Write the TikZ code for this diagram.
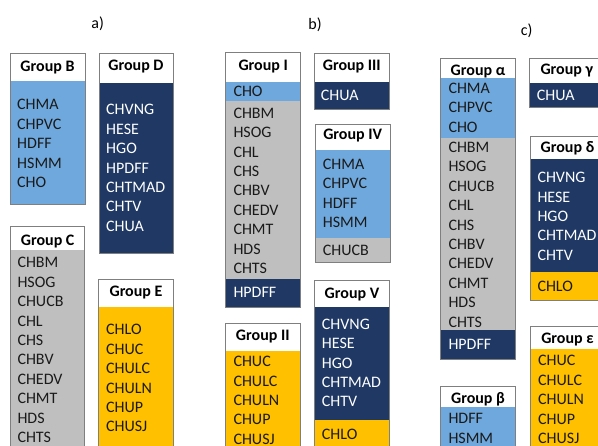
\documentclass[tikz,border=0pt]{standalone}
\usepackage{fontspec}
\setmainfont{Carlito}
\definecolor{cblue}{HTML}{6FA8DC}
\definecolor{cnavy}{HTML}{1F3864}
\definecolor{cgray}{HTML}{BFBFBF}
\definecolor{cgold}{HTML}{FFC000}
\definecolor{cframe}{HTML}{7F7F7F}
\definecolor{ctext}{HTML}{1A1A1A}
\tikzset{
  frame/.style={draw=cframe, line width=0.9pt},
  title/.style={anchor=base, inner sep=0pt, font=\fontsize{16}{19}\selectfont\bfseries, text=black},
  item/.style={anchor=base west, inner sep=0pt, font=\fontsize{16}{19}\selectfont, text=ctext},
  itemw/.style={item, text=white},
  panel/.style={anchor=base, inner sep=0pt, font=\fontsize{16}{19}\selectfont, text=black}
}
\newcommand\itemlist[5]{\foreach \t [count=\i] in {#5} \node[#4] (#1\i) at (#2,{#3+(\i-1)*19.4}) {\t};}
\begin{document}
\begin{tikzpicture}[x=1pt,y=-1pt]
\useasboundingbox (0,0) rectangle (598,446);
\clip (0,0) rectangle (598,446);
\fill[white] (0,0) rectangle (598,446);

% panel labels
\node[panel] (la) at (97.7,28.5) {a)};
\node[panel] (lb) at (315,29.5) {b)};
\node[panel] (lc) at (526.7,35.5) {c)};

% ---------- a) ----------
% Group B
\fill[cblue] (10,81) rectangle (85,204);
\draw[frame] (10,53) rectangle (85,204);
\node[title] (tB) at (47.5,71.7) {Group B};
\itemlist{B}{17}{110}{item}{CHMA,CHPVC,HDFF,HSMM,CHO}

% Group D
\fill[cnavy] (99,83) rectangle (173,253);
\draw[frame] (99,53) rectangle (173,253);
\node[title] (tD) at (136,71) {Group D};
\itemlist{D}{106}{115}{itemw}{CHVNG,HESE,HGO,HPDFF,CHTMAD,CHTV,CHUA}

% Group C
\fill[cgray] (10.7,250) rectangle (84.7,460);
\draw[frame] (10.7,226.7) rectangle (84.7,460);
\node[title] (tC) at (47.7,245.7) {Group C};
\itemlist{C}{17.3}{268}{item}{CHBM,HSOG,CHUCB,CHL,CHS,CHBV,CHEDV,CHMT,HDS,CHTS}

% Group E
\fill[cgold] (98.7,306.7) rectangle (173.3,460);
\draw[frame] (98.7,279.3) rectangle (173.3,460);
\node[title] (tE) at (136,296.7) {Group E};
\itemlist{E}{106}{335}{item}{CHLO,CHUC,CHULC,CHULN,CHUP,CHUSJ}

% ---------- b) ----------
% Group I
\fill[cblue] (225.7,81.7) rectangle (300.7,100.7);
\fill[cgray] (225.7,100.7) rectangle (300.7,279.3);
\fill[cnavy] (225.7,279.3) rectangle (300.7,307.3);
\draw[frame] (225.7,52.7) rectangle (300.7,307.3);
\node[title] (tI) at (263.2,71) {Group I};
\itemlist{Ia}{233.3}{96.7}{item}{CHO}
\itemlist{Ib}{233.3}{118.3}{item}{CHBM,HSOG,CHL,CHS,CHBV,CHEDV,CHMT,HDS,CHTS}
\itemlist{Ic}{233.3}{297.3}{itemw}{HPDFF}

% Group II
\fill[cgold] (225.7,350.7) rectangle (300,460);
\draw[frame] (225.7,323.3) rectangle (300,460);
\node[title] (tII) at (262.8,340.7) {Group II};
\itemlist{II}{233.3}{366.7}{item}{CHUC,CHULC,CHULN,CHUP,CHUSJ}

% Group III
\fill[cnavy] (314.3,81.7) rectangle (389.3,109.3);
\draw[frame] (314.3,53.3) rectangle (389.3,109.3);
\node[title] (tIII) at (351.8,71) {Group III};
\itemlist{III}{320.7}{100.7}{itemw}{CHUA}

% Group IV
\fill[cblue] (315.3,150) rectangle (390,238.3);
\fill[cgray] (315.3,238.3) rectangle (390,262.7);
\draw[frame] (315.3,124.3) rectangle (390,262.7);
\node[title] (tIV) at (352.7,140) {Group IV};
\itemlist{IVa}{322.7}{169.3}{item}{CHMA,CHPVC,HDFF,HSMM}
\itemlist{IVb}{322.7}{255.7}{item}{CHUCB}

% Group V
\fill[cnavy] (314.7,306.7) rectangle (389.3,420);
\fill[cgold] (314.7,420) rectangle (389.3,460);
\draw[frame] (314.7,280.7) rectangle (389.3,460);
\node[title] (tV) at (352,298.3) {Group V};
\itemlist{Va}{321.7}{329.3}{itemw}{CHVNG,HESE,HGO,CHTMAD,CHTV}
\itemlist{Vb}{321.7}{440}{item}{CHLO}

% ---------- c) ----------
% Group alpha
\fill[cblue] (440.7,78.3) rectangle (515.3,138.3);
\fill[cgray] (440.7,138.3) rectangle (515.3,330);
\fill[cnavy] (440.7,330) rectangle (515.3,359.3);
\draw[frame] (440.7,58.3) rectangle (515.3,359.3);
\node[title] (tal) at (478,76) {Group α};
\itemlist{ALa}{448.3}{93.3}{item}{CHMA,CHPVC,CHO}
\itemlist{ALb}{448.3}{152.5}{item}{CHBM,HSOG,CHUCB,CHL,CHS,CHBV,CHEDV,CHMT,HDS,CHTS}
\itemlist{ALc}{448.3}{350}{itemw}{HPDFF}

% Group beta
\fill[cblue] (440.7,407.3) rectangle (515.3,460);
\draw[frame] (440.7,386.7) rectangle (515.3,460);
\node[title] (tbe) at (478,404) {Group β};
\itemlist{BE}{448.3}{424}{item}{HDFF,HSMM}

% Group gamma
\fill[cnavy] (529.3,82.7) rectangle (604.3,107.7);
\draw[frame] (529.3,58.3) rectangle (604.3,107.7);
\node[title] (tga) at (566.8,75) {Group γ};
\itemlist{GA}{536.7}{100.7}{itemw}{CHUA}

% Group delta
\fill[cnavy] (530,159) rectangle (605,271.7);
\fill[cgold] (530,271.7) rectangle (605,300.7);
\draw[frame] (530,136) rectangle (605,300.7);
\node[title] (tde) at (567.5,152.7) {Group δ};
\itemlist{DEa}{537.3}{182.7}{itemw}{CHVNG,HESE,HGO,CHTMAD,CHTV}
\itemlist{DEb}{537.3}{291.7}{item}{CHLO}

% Group epsilon
\fill[cgold] (530,349.3) rectangle (605,460);
\draw[frame] (530,326) rectangle (605,460);
\node[title] (tep) at (567.5,343.3) {Group ε};
\itemlist{EP}{538}{366}{item}{CHUC,CHULC,CHULN,CHUP,CHUSJ}
\end{tikzpicture}
\end{document}
